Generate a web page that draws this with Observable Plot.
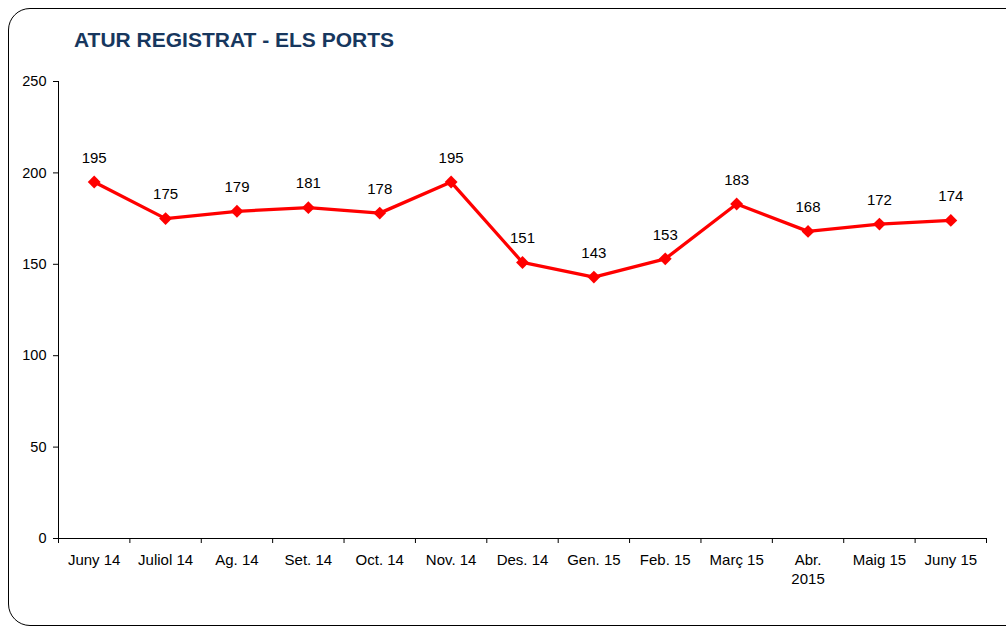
<!DOCTYPE html>
<html><head><meta charset="utf-8">
<script src="https://cdn.jsdelivr.net/npm/d3@7"></script>
<script src="https://cdn.jsdelivr.net/npm/@observablehq/plot@0.6"></script>
<style>
body{margin:0;background:#fff;}
#wrap{position:relative;width:1006px;height:629px;overflow:hidden;font-family:Arial,"Liberation Sans",sans-serif;}
#frame{position:absolute;left:8px;top:8px;width:1030px;height:618px;border:1.5px solid #000;border-radius:22px;box-sizing:border-box;}
#title{position:absolute;left:74px;top:28px;font-weight:bold;font-size:21px;color:#17375e;white-space:nowrap;}
#chart{position:absolute;left:0;top:0;}
</style></head><body>
<div id="wrap"><div id="frame"></div><div id="title">ATUR REGISTRAT - ELS PORTS</div><div id="chart"></div></div>
<script>
const months = ["Juny 14","Juliol 14","Ag. 14","Set. 14","Oct. 14","Nov. 14","Des. 14","Gen. 15","Feb. 15","Març 15","Abr.\n2015","Maig 15","Juny 15"];
const values = [195,175,179,181,178,195,151,143,153,183,168,172,174];
const yTicks = [0,50,100,150,200,250];

const data = months.map((m,i)=>({i, m, v: values[i]}));
const idx = months.map((_,i)=>i);
const bounds = d3.range(-0.5, months.length, 1);

const chart = Plot.plot({
  width:1006, height:629,
  marginLeft:58, marginRight:20, marginTop:81, marginBottom:91,
  style:{fontFamily:"Arial, 'Liberation Sans', sans-serif", fontSize:"15px", background:"transparent", color:"#000", overflow:"visible"},
  x:{type:"linear", domain:[-0.5, months.length-0.5]},
  y:{domain:[0,250]},
  marks:[
    Plot.axisY({ticks:yTicks, tickSize:5, tickPadding:7, fontSize:14.5, tickFormat:d=>String(d), label:null, stroke:"#000", strokeOpacity:1}),
    Plot.axisX({ticks:bounds, tickSize:5, tickFormat:()=>"", label:null, stroke:"#000", strokeOpacity:1}),
    Plot.axisX({ticks:idx, tickSize:0, tickPadding:13, tickFormat:i=>months[i], fontSize:15, lineHeight:1.25, label:null}),
    Plot.ruleX([-0.5], {stroke:"#000"}),
    Plot.ruleY([0], {stroke:"#000"}),
    Plot.line(data,{x:"i",y:"v",stroke:"#ff0000",strokeWidth:3.3}),
    Plot.dot(data,{x:"i",y:"v",symbol:"diamond2",r:5.8,fill:"#ff0000",stroke:"none"}),
    Plot.text(data,{x:"i",y:"v",text:"v",dy:-24,fontSize:15,fill:"#000"})
  ]
});
document.getElementById("chart").appendChild(chart);
</script>
</body></html>
